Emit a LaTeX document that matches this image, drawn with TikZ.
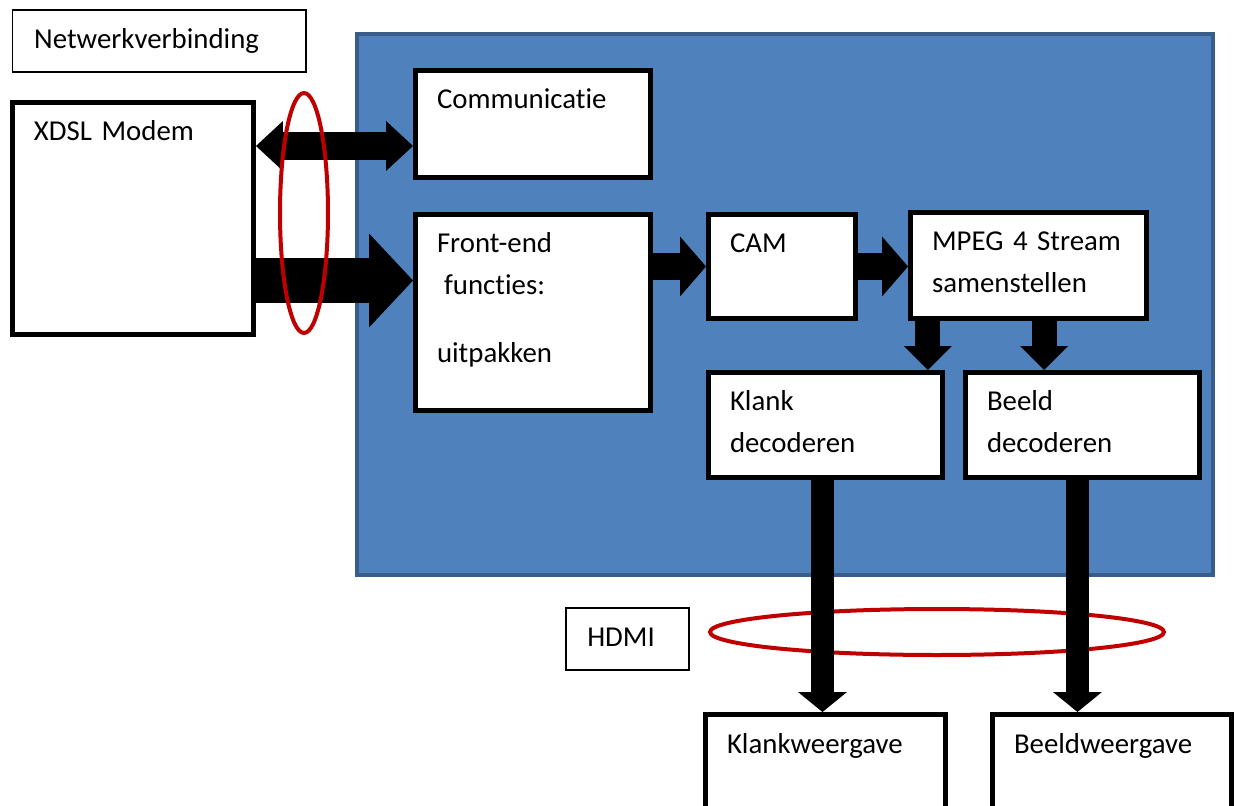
\documentclass[tikz,border=0pt]{standalone}
\usepackage{fontspec}
\setmainfont{Carlito}[Ligatures=NoCommon]
\usetikzlibrary{calc, arrows.meta, positioning}
\definecolor{blauw}{HTML}{4F81BD}
\definecolor{blauwrand}{HTML}{385D8A}
\definecolor{rood}{HTML}{C00000}

\begin{document}
\begin{tikzpicture}[x=0.02cm, y=-0.02cm,
		blok/.style={draw, fill=white, line width=0.1cm, anchor=north west, align=left,
			inner xsep=0.43cm, inner ysep=0pt, text height=0.77cm,
			font=\fontsize{16.4pt}{23.5pt}\selectfont},
		dunblok/.style={blok, line width=0.03cm},
		pijl/.style n args={3}{line width=#1, -{Triangle[length=#2, width=#3, line width=0pt]}},
		dubbelpijl/.style={line width=0.56cm,
			{Triangle[length=0.54cm, width=1cm, line width=0pt]}-{Triangle[length=0.54cm, width=1cm, line width=0pt]}},
		ring/.style={draw=rood, line width=0.08cm}]
		\useasboundingbox (0,0) rectangle (1234,805);

		\filldraw[fill=blauw, draw=blauwrand, line width=0.08cm] (357,34) rectangle (1213,575);

		\node[dunblok, text width=5.01cm, text depth=0.48cm] (netwerk) at (12,9) {Netwerkverbinding};
		\node[blok, text width=3.96cm, text depth=3.87cm] (modem) at (10,100) {XDSL Modem};
		\node[blok, text width=3.84cm, text depth=1.37cm] (comm) at (413,68) {Communicatie};
		\node[blok, text width=3.84cm, text depth=3.15cm] (frontend) at (413,212)
			{Front-end\\\hspace*{0.25em}functies:\\[0.54cm]uitpakken};
		\node[blok, text width=2.08cm, text depth=1.31cm] (cam) at (706,212) {CAM};
		\node[blok, text width=3.86cm, text depth=1.35cm] (mpeg) at (908,210) {MPEG 4 Stream\\samenstellen};
		\node[blok, text width=3.82cm, text depth=1.33cm] (klank) at (706,370) {Klank\\decoderen};
		\node[blok, text width=3.82cm, text depth=1.33cm] (beeld) at (963,370) {Beeld\\decoderen};
		\node[dunblok, text width=1.61cm, text depth=0.48cm] (hdmi) at (565,607) {HDMI};
		\node[blok, text width=3.94cm, text depth=1.13cm] (klankw) at (703,712) {Klankweergave};
		\node[blok, text width=3.92cm, text depth=1.13cm] (beeldw) at (990,712) {Beeldweergave};

		\draw[ring] (937,632) ellipse [x radius=4.54cm, y radius=0.46cm];

		\coordinate (dub) at ($(comm.west)+(0,22)$);
		\draw[dubbelpijl] (modem.east |- dub) -- (dub);
		\coordinate (gr) at ($(frontend.west)+(0,-32)$);
		\draw[pijl={0.9cm}{0.88cm}{1.88cm}] (modem.east |- gr) -- (gr);
		\draw[pijl={0.54cm}{0.52cm}{1.2cm}] (frontend.east |- cam.west) -- (cam.west);
		\draw[pijl={0.54cm}{0.52cm}{1.2cm}] (cam.east) -- (mpeg.west |- cam.east);

		\coordinate (k1) at ($(klank.north east)+(-17,0)$);
		\coordinate (b1) at ($(beeld.north west)+(81,0)$);
		\draw[pijl={0.5cm}{0.48cm}{0.96cm}] (mpeg.south -| k1) -- (k1);
		\draw[pijl={0.5cm}{0.48cm}{0.96cm}] (mpeg.south -| b1) -- (b1);

		\coordinate (k2) at ($(klank.south)+(-3,0)$);
		\coordinate (b2) at ($(beeld.south)+(-5,0)$);
		\draw[pijl={0.46cm}{0.4cm}{0.98cm}] (k2) -- (k2 |- klankw.north);
		\draw[pijl={0.46cm}{0.4cm}{0.98cm}] (b2) -- (b2 |- beeldw.north);

		\draw[ring] (304,213) ellipse [x radius=0.48cm, y radius=2.4cm];

	\end{tikzpicture}
\end{document}
